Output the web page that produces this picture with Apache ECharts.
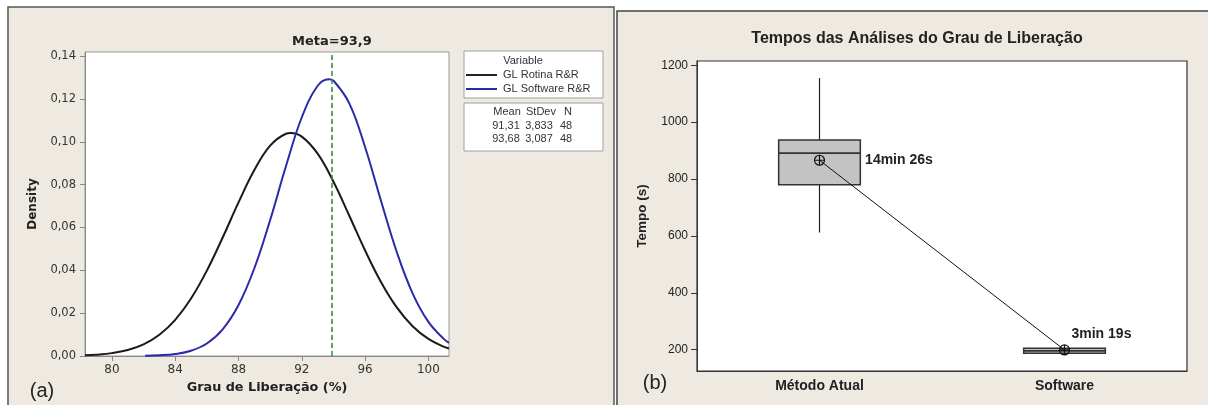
<!DOCTYPE html>
<html>
<head>
<meta charset="utf-8">
<script src="https://cdn.jsdelivr.net/npm/echarts@6/dist/echarts.min.js"></script>
<style>
  html, body { margin: 0; padding: 0; background: #fff; }
  #chart { width: 1208px; height: 405px; }
</style>
</head>
<body>
<div id="chart"></div>
<script>
// (a) curvas de densidade
const rotinaX = [78.3, 79, 80, 81, 82, 83, 84, 85, 86, 87, 88, 89, 90, 91, 91.3, 92, 93, 94, 95, 96, 97, 98, 99, 100, 101, 101.3];
const rotinaY = [0.00033, 0.00060, 0.00134, 0.00280, 0.00545, 0.00993, 0.01689, 0.02685, 0.03986, 0.05531, 0.07169, 0.08679, 0.09818, 0.10374, 0.10408, 0.10241, 0.09444, 0.08136, 0.06548, 0.04923, 0.03459, 0.02269, 0.01391, 0.00797, 0.00426, 0.00349];
const softwareX = [82.1, 83, 84, 85, 86, 87, 88, 89, 90, 91, 92, 93, 93.7, 94, 95, 96, 97, 98, 99, 100, 101, 101.3];
const softwareY = [0.00011, 0.00033, 0.00095, 0.00248, 0.00585, 0.01243, 0.02378, 0.04095, 0.06350, 0.08866, 0.11144, 0.12613, 0.12923, 0.12854, 0.11794, 0.09743, 0.07248, 0.04854, 0.02927, 0.01590, 0.00777, 0.00614];
const meta = 93.9;
const densityXTicks = [80, 84, 88, 92, 96, 100];
const densityYTicks = [0, 0.02, 0.04, 0.06, 0.08, 0.10, 0.12, 0.14];
const seriesNames = ['GL Rotina R&R', 'GL Software R&R'];
const statsMean = ['91,31', '93,68'];
const statsStDev = ['3,833', '3,087'];
const statsN = ['48', '48'];

// (b) boxplot dos tempos
const categories = ['Método Atual', 'Software'];
const boxLow = [612, 185];
const boxQ1 = [780, 187];
const boxMedian = [891, 196];
const boxQ3 = [937, 205];
const boxHigh = [1155, 206];
const means = [866, 199];
const meanLabels = ['14min 26s', '3min 19s'];
const tempoTicks = [200, 400, 600, 800, 1000, 1200];

const zip = (xs, ys) => xs.map((x, i) => [x, ys[i]]);
const comma = (v, d) => v.toFixed(d).replace('.', ',');

const fontA = 'DejaVu Sans';
const fontB = 'Liberation Sans';
const bg = '#eeeae1';

const dom = document.getElementById('chart');
const myChart = echarts.init(dom);

// caixa da legenda (a)
const legFont = '11px ' + fontB;
const legText = (x, y, text, align) => ({
  type: 'text', z: 11, x: x, y: y,
  style: { text: text, font: legFont, fill: '#333', align: align || 'center', verticalAlign: 'middle' }
});
const legendEls = [
  { type: 'rect', z: 10, shape: { x: 464, y: 51, width: 139, height: 47 }, style: { fill: '#fff', stroke: '#a0a0a0', lineWidth: 1 } },
  { type: 'rect', z: 10, shape: { x: 464, y: 103, width: 139, height: 48 }, style: { fill: '#fff', stroke: '#a0a0a0', lineWidth: 1 } },
  legText(523, 61, 'Variable'),
  { type: 'line', z: 11, shape: { x1: 466, y1: 75, x2: 497, y2: 75 }, style: { stroke: '#222', lineWidth: 2 } },
  { type: 'line', z: 11, shape: { x1: 466, y1: 89, x2: 497, y2: 89 }, style: { stroke: '#2a2aaa', lineWidth: 2 } },
  legText(503, 75, seriesNames[0], 'left'),
  legText(503, 89, seriesNames[1], 'left'),
  legText(507, 112, 'Mean'),
  legText(541, 112, 'StDev'),
  legText(568, 112, 'N')
];
statsMean.forEach((m, i) => {
  const y = 126 + i * 13.3;
  legendEls.push(legText(506, y, m), legText(539, y, statsStDev[i]), legText(566, y, statsN[i]));
});

var option = {
  animation: false,
  backgroundColor: '#fff',
  title: {
    text: 'Tempos das Análises do Grau de Liberação',
    left: 917,
    top: 31,
    padding: 0,
    textAlign: 'center',
    textStyle: { fontFamily: fontB, fontSize: 16, fontWeight: 'bold', color: '#222' }
  },
  graphic: [
    { type: 'rect', z: -10, shape: { x: 8, y: 7, width: 606, height: 405 }, style: { fill: bg, stroke: '#555', lineWidth: 1.5 } },
    { type: 'rect', z: -10, shape: { x: 617, y: 11, width: 600, height: 405 }, style: { fill: bg, stroke: '#444', lineWidth: 1.5 } },
    { type: 'text', z: 5, x: 42, y: 391, style: { text: '(a)', font: '20px ' + fontB, fill: '#222', align: 'center', verticalAlign: 'middle' } },
    { type: 'text', z: 5, x: 655, y: 383, style: { text: '(b)', font: '20px ' + fontB, fill: '#222', align: 'center', verticalAlign: 'middle' } }
  ].concat(legendEls),
  grid: [
    { left: 85, top: 52, width: 364, height: 304, show: true, backgroundColor: '#fff', borderColor: '#9a9a9a', borderWidth: 1 },
    { left: 697, top: 61, width: 490, height: 310, show: true, backgroundColor: '#fff', borderColor: '#333', borderWidth: 1.2 }
  ],
  xAxis: [
    {
      gridIndex: 0, type: 'value', min: 78.3, max: 101.3,
      name: 'Grau de Liberação (%)', nameLocation: 'middle', nameGap: 25,
      nameTextStyle: { fontFamily: fontA, fontSize: 12.8, fontWeight: 'bold', color: '#222' },
      axisLine: { lineStyle: { color: '#888' } },
      axisTick: { show: true, length: 5, customValues: densityXTicks, lineStyle: { color: '#888' } },
      axisLabel: { customValues: densityXTicks, margin: 8, fontFamily: fontA, fontSize: 12, color: '#333' },
      splitLine: { show: false }
    },
    {
      gridIndex: 1, type: 'category', data: categories, boundaryGap: true,
      axisLine: { lineStyle: { color: '#333' } },
      axisTick: { alignWithLabel: true, length: 5, lineStyle: { color: '#333' } },
      axisLabel: { margin: 8, fontFamily: fontB, fontSize: 14, fontWeight: 'bold', color: '#222' }
    }
  ],
  yAxis: [
    {
      gridIndex: 0, type: 'value', min: 0, max: 0.1419,
      name: 'Density', nameLocation: 'middle', nameGap: 46, nameRotate: 90,
      nameTextStyle: { fontFamily: fontA, fontSize: 12, fontWeight: 'bold', color: '#222' },
      axisLine: { show: true, lineStyle: { color: '#888' } },
      axisTick: { show: true, length: 5, customValues: densityYTicks, lineStyle: { color: '#888' } },
      axisLabel: { customValues: densityYTicks, margin: 9, fontFamily: fontA, fontSize: 11.5, color: '#333', formatter: (v) => comma(v, 2) },
      splitLine: { show: false }
    },
    {
      gridIndex: 1, type: 'value', min: 125, max: 1215,
      name: 'Tempo (s)', nameLocation: 'middle', nameGap: 48, nameRotate: 90,
      nameTextStyle: { fontFamily: fontB, fontSize: 13.5, fontWeight: 'bold', color: '#222' },
      axisLine: { show: true, lineStyle: { color: '#333' } },
      axisTick: { show: true, length: 6, customValues: tempoTicks, lineStyle: { color: '#333' } },
      axisLabel: { customValues: tempoTicks, margin: 9, fontFamily: fontB, fontSize: 12, color: '#222', formatter: (v) => String(v) },
      splitLine: { show: false }
    }
  ],
  series: [
    {
      name: seriesNames[0], type: 'line', xAxisIndex: 0, yAxisIndex: 0,
      data: zip(rotinaX, rotinaY), smooth: 0.4, showSymbol: false,
      lineStyle: { color: '#1a1a1a', width: 2 }, z: 3,
      markLine: {
        silent: true, symbol: 'none',
        data: [{ xAxis: meta }],
        lineStyle: { color: '#2f8a3c', width: 1.5, type: [5, 3] },
        label: { show: true, position: 'end', distance: 4, formatter: 'Meta=' + comma(meta, 1), fontFamily: fontA, fontSize: 13, fontWeight: 'bold', color: '#222' }
      }
    },
    {
      name: seriesNames[1], type: 'line', xAxisIndex: 0, yAxisIndex: 0,
      data: zip(softwareX, softwareY), smooth: 0.4, showSymbol: false,
      lineStyle: { color: '#2a2aaa', width: 2 }, z: 3
    },
    {
      type: 'custom', xAxisIndex: 1, yAxisIndex: 1,
      data: categories.map((c, i) => [i, boxLow[i], boxQ1[i], boxMedian[i], boxQ3[i], boxHigh[i]]),
      encode: { x: 0, y: [1, 2, 3, 4, 5] },
      renderItem: (params, api) => {
        const i = api.value(0);
        const pLow = api.coord([i, api.value(1)]);
        const pQ1 = api.coord([i, api.value(2)]);
        const pMed = api.coord([i, api.value(3)]);
        const pQ3 = api.coord([i, api.value(4)]);
        const pHigh = api.coord([i, api.value(5)]);
        const half = api.size([1, 0])[0] / 6;
        const line = { stroke: '#222', lineWidth: 1.2 };
        return {
          type: 'group',
          children: [
            { type: 'line', shape: { x1: pLow[0], y1: pLow[1], x2: pLow[0], y2: pQ1[1] }, style: line },
            { type: 'line', shape: { x1: pHigh[0], y1: pQ3[1], x2: pHigh[0], y2: pHigh[1] }, style: line },
            { type: 'rect', shape: { x: pQ3[0] - half, y: pQ3[1], width: half * 2, height: pQ1[1] - pQ3[1] }, style: { fill: '#c3c3c3', stroke: '#333', lineWidth: 1.5 } },
            { type: 'line', shape: { x1: pMed[0] - half, y1: pMed[1], x2: pMed[0] + half, y2: pMed[1] }, style: { stroke: '#333', lineWidth: 1.8 } }
          ]
        };
      },
      z: 2
    },
    {
      type: 'line', xAxisIndex: 1, yAxisIndex: 1,
      data: means.map((m, i) => ({
        value: m,
        label: i === 0
          ? { show: true, position: 'right', distance: 40, formatter: meanLabels[i] }
          : { show: true, position: 'top', align: 'left', offset: [7, 0], distance: 3, formatter: meanLabels[i] }
      })),
      symbol: 'path://M0,-5A5,5 0 1,1 0,5A5,5 0 1,1 0,-5ZM-5,0L5,0M0,-5L0,5',
      symbolSize: 10,
      itemStyle: { color: 'rgba(0,0,0,0)', borderColor: '#111', borderWidth: 1.2 },
      lineStyle: { color: '#111', width: 1 },
      label: { fontFamily: fontB, fontSize: 14, fontWeight: 'bold', color: '#222' },
      z: 5
    }
  ]
};

if (option && typeof option === 'object') {
  myChart.setOption(option);
}
</script>
</body>
</html>
